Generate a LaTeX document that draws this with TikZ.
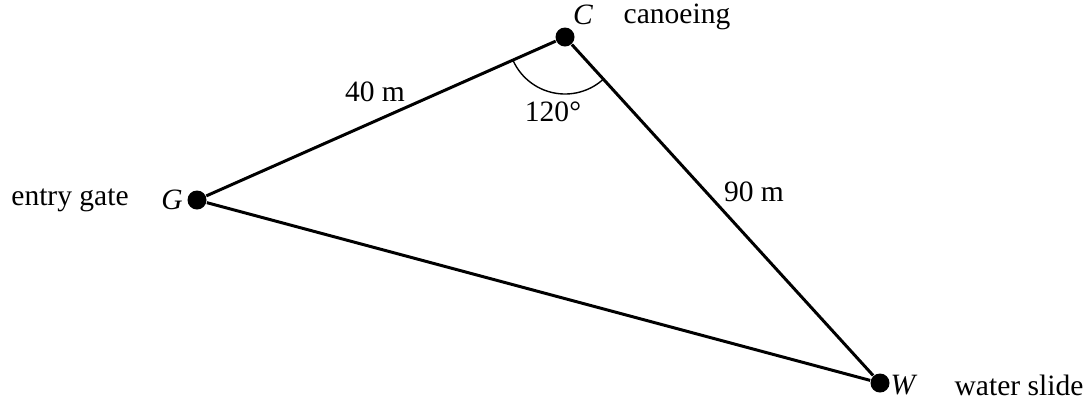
\documentclass[tikz,border=0pt]{standalone}
\usepackage{fontspec}
\setmainfont{Liberation Serif}
\usepackage{tikz}
\usetikzlibrary{positioning}

\begin{document}
\begin{tikzpicture}[
    dot/.style={circle, fill=black, inner sep=0pt, minimum size=0.19cm},
    side/.style={line width=0.85pt},
    lbl/.style={inner sep=0pt, font=\fontsize{8.4}{10}\selectfont},
    pt/.style={inner sep=0pt, font=\fontsize{8.4}{10}\selectfont\itshape}
]
\useasboundingbox (0,0) rectangle (10.86,-4.00);

% Points
\node[dot] (G) at (1.97,-2.00) {};
\node[dot] (C) at (5.65,-0.37) {};
\node[dot] (W) at (8.80,-3.83) {};

% Sides
\draw[side] (G) -- (C);
\draw[side] (C) -- (W);
\draw[side] (W) -- (G);

% Angle at C
\draw[line width=0.4pt] (C.center) ++(203.9:0.57) arc[start angle=203.9, end angle=312.3, radius=0.57];

% Point labels
\node[pt] (Glab) at (1.72,-2.00) {G};
\node[lbl] (gate) at (0.70,-2.00) {entry gate};
\node[pt] (Clab) at (5.83,-0.15) {C};
\node[lbl] (canoe) at (6.77,-0.17) {canoeing};
\node[pt] (Wlab) at (9.03,-3.85) {W};
\node[lbl] (slide) at (10.19,-3.85) {water slide};

% Measures
\node[lbl] (gc) at (3.75,-0.92) {40 m};
\node[lbl] (cw) at (7.54,-1.92) {90 m};
\node[lbl] (ang) at (5.53,-1.12) {120°};

\end{tikzpicture}
\end{document}
